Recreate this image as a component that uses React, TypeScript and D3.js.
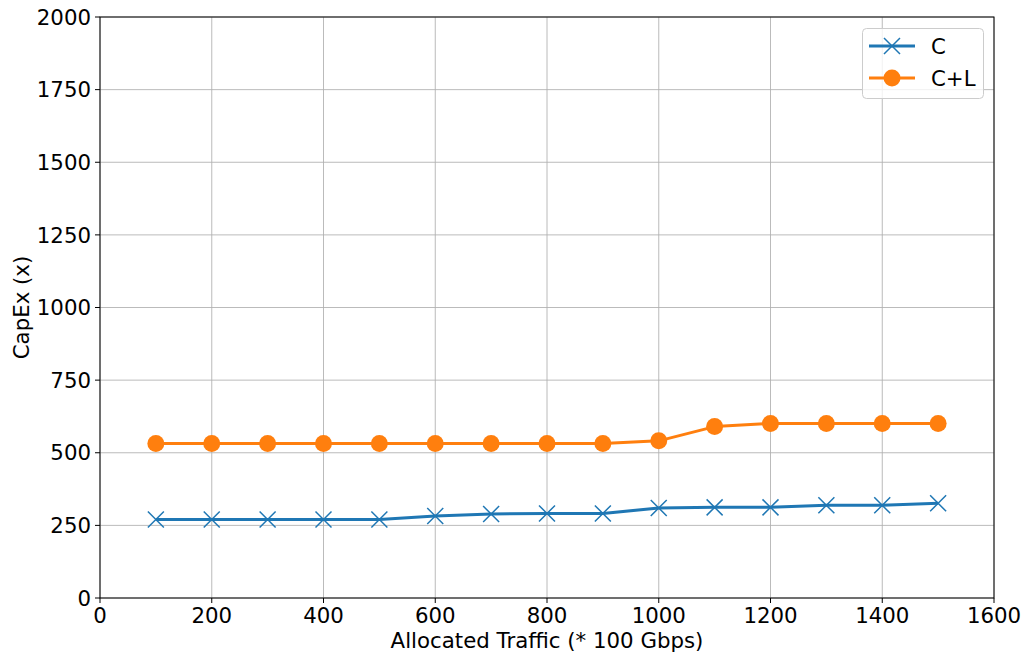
import * as React from "react";
import * as d3 from "d3";

const traffic = [100, 200, 300, 400, 500, 600, 700, 800, 900, 1000, 1100, 1200, 1300, 1400, 1500];
const capexC = [270, 270, 270, 270, 270, 282, 289, 291, 291, 310, 312, 312, 319, 319, 326];
const capexCL = [532, 532, 532, 532, 532, 532, 532, 532, 532, 541, 590, 601, 601, 601, 601];
const xTicks = [0, 200, 400, 600, 800, 1000, 1200, 1400, 1600];
const yTicks = [0, 250, 500, 750, 1000, 1250, 1500, 1750, 2000];

const BLUE = "#1f77b4";
const ORANGE = "#ff7f0e";
const FONT = "DejaVu Sans, sans-serif";
const FS = 21.3;

export default function App() {
  const width = 1025;
  const height = 657;
  const m = { left: 100, right: 994, top: 17, bottom: 598 };

  const x = d3.scaleLinear().domain([0, 1600]).range([m.left, m.right]);
  const y = d3.scaleLinear().domain([0, 2000]).range([m.bottom, m.top]);

  const line = d3
    .line<number>()
    .x((_, i) => x(traffic[i]))
    .y((d) => y(d));

  const cross = (cx: number, cy: number, key: string, s = 8) => (
    <path
      key={key}
      d={`M${cx - s},${cy - s}L${cx + s},${cy + s}M${cx - s},${cy + s}L${cx + s},${cy - s}`}
      stroke={BLUE}
      strokeWidth={1.5}
      fill="none"
    />
  );

  return (
    <svg
      width={width}
      height={height}
      style={{ position: "absolute", left: 0, top: 0, background: "#fff" }}
      fontFamily={FONT}
    >
      {/* grid */}
      {xTicks.map((t) => (
        <line key={"gx" + t} x1={x(t)} x2={x(t)} y1={m.top} y2={m.bottom} stroke="#b0b0b0" strokeWidth={1} opacity={0.85} />
      ))}
      {yTicks.map((t) => (
        <line key={"gy" + t} x1={m.left} x2={m.right} y1={y(t)} y2={y(t)} stroke="#b0b0b0" strokeWidth={1} opacity={0.85} />
      ))}

      {/* series */}
      <path d={line(capexC) || ""} fill="none" stroke={BLUE} strokeWidth={3} strokeLinejoin="round" />
      {capexC.map((v, i) => cross(x(traffic[i]), y(v), "c" + i))}
      <path d={line(capexCL) || ""} fill="none" stroke={ORANGE} strokeWidth={3} strokeLinejoin="round" />
      {capexCL.map((v, i) => (
        <circle key={"cl" + i} cx={x(traffic[i])} cy={y(v)} r={8.5} fill={ORANGE} />
      ))}

      {/* frame */}
      <rect x={m.left} y={m.top} width={m.right - m.left} height={m.bottom - m.top} fill="none" stroke="#000" strokeWidth={1} />

      {/* x ticks */}
      {xTicks.map((t) => (
        <g key={"tx" + t}>
          <line x1={x(t)} x2={x(t)} y1={m.bottom} y2={m.bottom + 5} stroke="#000" />
          <text x={x(t)} y={m.bottom + 25} textAnchor="middle" fontSize={FS}>
            {t}
          </text>
        </g>
      ))}
      {/* y ticks */}
      {yTicks.map((t) => (
        <g key={"ty" + t}>
          <line x1={m.left - 5} x2={m.left} y1={y(t)} y2={y(t)} stroke="#000" />
          <text x={m.left - 9} y={y(t)} dy="0.36em" textAnchor="end" fontSize={FS}>
            {t}
          </text>
        </g>
      ))}

      <text x={(m.left + m.right) / 2} y={648} textAnchor="middle" fontSize={FS}>
        Allocated Traffic (* 100 Gbps)
      </text>
      <text transform={`translate(29,${(m.top + m.bottom) / 2}) rotate(-90)`} textAnchor="middle" fontSize={FS}>
        CapEx (x)
      </text>

      {/* legend */}
      <g>
        <rect x={862.5} y={28.5} width={121} height={70} rx={4} fill="#fff" fillOpacity={0.8} stroke="#ccc" strokeWidth={1} />
        <line x1={869} x2={915} y1={46} y2={46} stroke={BLUE} strokeWidth={3} />
        {cross(892, 46, "lg-c")}
        <text x={931} y={46} dy="0.36em" fontSize={FS}>C</text>
        <line x1={869} x2={915} y1={78} y2={78} stroke={ORANGE} strokeWidth={3} />
        <circle cx={892} cy={78} r={8.5} fill={ORANGE} />
        <text x={931} y={78} dy="0.36em" fontSize={FS}>C+L</text>
      </g>
    </svg>
  );
}
